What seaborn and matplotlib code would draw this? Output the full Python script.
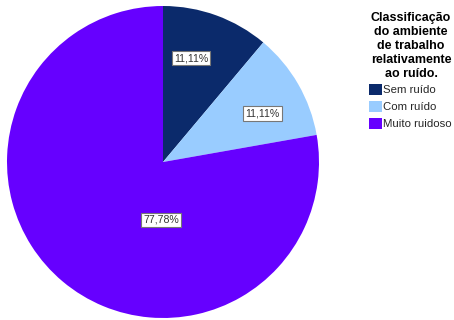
import matplotlib
matplotlib.use("Agg")
import matplotlib.pyplot as plt
import seaborn as sns
import numpy as np

categories = ["Sem ruído", "Com ruído", "Muito ruidoso"]
percentages = [11.11, 11.11, 77.78]
legend_title = "Classificação\ndo ambiente\nde trabalho\nrelativamente\nao ruído."

sns.set_theme(style="white")
plt.rcParams["font.family"] = ["Liberation Sans", "DejaVu Sans"]

colors = sns.color_palette(["#0b2a6b", "#99ccff", "#6600ff"])

W, H = 454, 320
fig = plt.figure(figsize=(W / 100, H / 100), dpi=100)
fig.patch.set_facecolor("white")

# pie area in pixel units: left 7, bottom 2, 312 x 312
ax = fig.add_axes([7 / W, 2 / H, 312 / W, 312 / H])
wedges, _ = ax.pie(percentages, colors=colors, startangle=90, counterclock=False,
                   radius=1.0, wedgeprops=dict(linewidth=0))
ax.set_xlim(-1, 1)
ax.set_ylim(-1, 1)
ax.set_aspect("equal")
ax.axis("off")

# label anchors (angle in degrees, radius fraction) per slice
label_angles = [75, 26, -92]
label_radii = [0.69, 0.71, 0.37]
for pct, ang, r in zip(percentages, label_angles, label_radii):
    a = np.deg2rad(ang)
    txt = f"{pct:.2f}%".replace(".", ",")
    ax.text(r * np.cos(a), r * np.sin(a), txt, ha="center", va="center",
            fontsize=7.6, color="#333333",
            bbox=dict(boxstyle="square,pad=0.2", facecolor="white",
                      edgecolor="#777777", linewidth=0.8))

# legend title, centred above the entries
fig.text(411 / W, 1 - 12 / H, legend_title, ha="center", va="top",
         fontsize=9.0, fontweight="bold", color="black", linespacing=1.22,
         multialignment="center")

handles = [plt.Rectangle((0, 0), 1, 1, facecolor=c, edgecolor="none") for c in colors]
leg = fig.legend(handles, categories,
                 loc="upper left", bbox_to_anchor=(361 / W, 1 - 76 / H),
                 frameon=False, fontsize=8.2,
                 handlelength=1.15, handleheight=1.1, handletextpad=0.12,
                 labelspacing=0.5, borderpad=0.2)

fig.savefig("out.png", dpi=100, facecolor="white")
